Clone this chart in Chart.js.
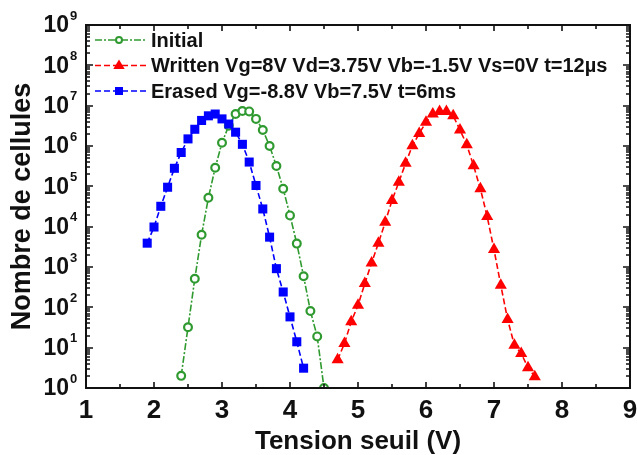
<!DOCTYPE html>
<html>
<head>
<meta charset="utf-8">
<script src="https://cdn.jsdelivr.net/npm/chart.js@4"></script>
<style>
  html, body { margin: 0; padding: 0; background: #fff; overflow: hidden; }
  #wrap { width: 637px; height: 455px; }
</style>
</head>
<body>
<div id="wrap"><canvas id="c" width="637" height="455"></canvas></div>
<script>
// ---- data ----
const seriesNames = [
  'Initial',
  'Written Vg=8V Vd=3.75V Vb=-1.5V Vs=0V t=12\u00b5s',
  'Erased Vg=-8.8V Vb=7.5V t=6ms'
];
const initialV = [2.4, 2.5, 2.6, 2.7, 2.8, 2.9, 3.0, 3.1, 3.2, 3.3, 3.4, 3.5, 3.6, 3.7, 3.8, 3.9, 4.0, 4.1, 4.2, 4.3, 4.4, 4.5];
const initialCount = [2, 32, 510, 6300, 52000, 290000, 1.2e6, 3.2e6, 6.2e6, 7.4e6, 7.2e6, 4.7e6, 2.5e6, 1.0e6, 320000, 87000, 19000, 3800, 590, 81, 19, 1];

const writtenV = [4.7, 4.8, 4.9, 5.0, 5.1, 5.2, 5.3, 5.4, 5.5, 5.6, 5.7, 5.8, 5.9, 6.0, 6.1, 6.2, 6.3, 6.4, 6.5, 6.6, 6.7, 6.8, 6.9, 7.0, 7.1, 7.2, 7.3, 7.4, 7.5, 7.6];
const writtenCount = [5, 12.6, 44, 112, 390, 1260, 3900, 12900, 44700, 126000, 372000, 1.02e6, 2.04e6, 3.9e6, 6.2e6, 7.2e6, 7.2e6, 5.6e6, 2.5e6, 1.07e6, 324000, 87000, 17800, 2700, 355, 50, 11.5, 7.2, 3.2, 1.9];

const erasedV = [1.9, 2.0, 2.1, 2.2, 2.3, 2.4, 2.5, 2.6, 2.7, 2.8, 2.9, 3.0, 3.1, 3.2, 3.3, 3.4, 3.5, 3.6, 3.7, 3.8, 3.9, 4.0, 4.1, 4.2];
const erasedCount = [3900, 9800, 32000, 95000, 280000, 690000, 1.5e6, 2.6e6, 4.3e6, 5.6e6, 6.2e6, 4.7e6, 3.5e6, 2.2e6, 1.1e6, 400000, 105000, 27500, 5500, 910, 240, 58, 14, 3.1];

const xTickLabels = ['1', '2', '3', '4', '5', '6', '7', '8', '9'];
const yExponents = ['0', '1', '2', '3', '4', '5', '6', '7', '8', '9'];
const xTitle = 'Tension seuil (V)';
const yTitle = 'Nombre de cellules';

// ---- styles ----
const GREEN = '#2f9a2f', RED = '#ff0000', BLUE = '#0000ff';
const FONT = '"Liberation Sans", Arial, sans-serif';
const styles = [
  { color: GREEN, dash: [7, 2, 2, 2], marker: 'circle' },
  { color: RED, dash: [6, 3], marker: 'triangle' },
  { color: BLUE, dash: [6, 3], marker: 'rect' }
];

function pts(xs, ys) { return xs.map((v, i) => ({ x: v, y: ys[i] })); }

function drawMarker(ctx, type, color, x, y, s) {
  ctx.save();
  ctx.setLineDash([]);
  if (type === 'circle') {
    ctx.beginPath(); ctx.arc(x, y, s, 0, Math.PI * 2);
    ctx.fillStyle = '#fff'; ctx.fill();
    ctx.lineWidth = 2; ctx.strokeStyle = color; ctx.stroke();
  } else if (type === 'triangle') {
    ctx.beginPath();
    ctx.moveTo(x, y - s); ctx.lineTo(x + s * 0.95, y + s * 0.6); ctx.lineTo(x - s * 0.95, y + s * 0.6);
    ctx.closePath(); ctx.fillStyle = color; ctx.fill();
  } else {
    ctx.fillStyle = color; ctx.fillRect(x - s, y - s, 2 * s, 2 * s);
  }
  ctx.restore();
}

const framePlugin = {
  id: 'frame',
  afterDraw(chart) {
    const { ctx, chartArea: a, scales } = chart;
    const xs = scales.x, ys = scales.y;
    ctx.save();
    ctx.strokeStyle = '#111';
    ctx.lineWidth = 1.6;
    ctx.beginPath();
    // x ticks (major + minor), bottom and top, inward
    for (let v = 1; v <= 9.001; v += 0.5) {
      const px = Math.round(xs.getPixelForValue(v));
      const len = Math.abs(v - Math.round(v)) < 1e-6 ? 6 : 4;
      ctx.moveTo(px, a.bottom); ctx.lineTo(px, a.bottom - len);
      ctx.moveTo(px, a.top); ctx.lineTo(px, a.top + len);
    }
    // y ticks
    for (let n = 0; n <= 9; n++) {
      for (let k = 1; k <= 9; k++) {
        if (n === 9 && k > 1) break;
        const val = k * Math.pow(10, n);
        const py = Math.round(ys.getPixelForValue(val));
        const len = k === 1 ? 7 : 4;
        ctx.moveTo(a.left, py); ctx.lineTo(a.left + len, py);
        ctx.moveTo(a.right, py); ctx.lineTo(a.right - len, py);
      }
    }
    ctx.stroke();
    // frame
    ctx.lineWidth = 2;
    ctx.strokeRect(a.left, a.top, a.right - a.left, a.bottom - a.top);

    // y tick labels 10^n
    ctx.fillStyle = '#111';
    yExponents.forEach((e, n) => {
      const py = ys.getPixelForValue(Math.pow(10, n));
      ctx.font = 'bold 23px ' + FONT;
      ctx.textAlign = 'right'; ctx.textBaseline = 'middle';
      ctx.fillText('10', 69, py + 1);
      ctx.font = 'bold 13px ' + FONT;
      ctx.textAlign = 'left';
      ctx.fillText(e, 70, py - 9);
    });

    // legend
    const rows = [40, 65.5, 91];
    seriesNames.forEach((name, i) => {
      const st = styles[i];
      const y = rows[i];
      ctx.save();
      ctx.strokeStyle = st.color; ctx.lineWidth = 1.6; ctx.setLineDash(st.dash);
      ctx.beginPath(); ctx.moveTo(95, y); ctx.lineTo(146, y); ctx.stroke();
      ctx.restore();
      const s = st.marker === 'circle' ? 3 : (st.marker === 'triangle' ? 6 : 4);
      drawMarker(ctx, st.marker, st.color, 119, y, s);
      ctx.fillStyle = '#111';
      ctx.font = 'bold 20px ' + FONT;
      ctx.textAlign = 'left'; ctx.textBaseline = 'middle';
      ctx.fillText(name, 151, y + 1);
    });
    ctx.restore();
  }
};

const datasets = [
  {
    label: seriesNames[0], data: pts(initialV, initialCount), order: 2,
    borderColor: GREEN, borderWidth: 1.6, borderDash: styles[0].dash,
    pointStyle: 'circle', pointRadius: 3.9, pointBorderWidth: 2.2,
    pointBackgroundColor: '#fff', pointBorderColor: GREEN
  },
  {
    label: seriesNames[1], data: pts(writtenV, writtenCount), order: 1,
    borderColor: RED, borderWidth: 1.6, borderDash: styles[1].dash,
    pointStyle: 'triangle', pointRadius: 7, pointBorderWidth: 0,
    pointBackgroundColor: RED, pointBorderColor: RED
  },
  {
    label: seriesNames[2], data: pts(erasedV, erasedCount), order: 0,
    borderColor: BLUE, borderWidth: 1.6, borderDash: styles[2].dash,
    pointStyle: 'rect', pointRadius: 6.4, pointBorderWidth: 0,
    pointBackgroundColor: BLUE, pointBorderColor: BLUE
  }
];

new Chart(document.getElementById('c'), {
  type: 'line',
  data: { datasets },
  options: {
    responsive: false,
    animation: false,
    devicePixelRatio: 1,
    layout: { padding: { top: 25, right: 6, left: 0, bottom: 0 } },
    plugins: { legend: { display: false }, tooltip: { enabled: false } },
    elements: { line: { tension: 0 } },
    scales: {
      x: {
        type: 'linear', min: 1, max: 9,
        grid: { display: false, drawTicks: false },
        border: { display: false },
        ticks: {
          stepSize: 1, padding: 7, color: '#111',
          font: { family: FONT, size: 26, weight: 'bold' },
          callback: (v) => xTickLabels[Math.round(v) - 1] ?? ''
        },
        title: {
          display: true, text: xTitle, color: '#111',
          font: { family: FONT, size: 26, weight: 'bold', lineHeight: 1 },
          padding: { top: 0, bottom: 0 }
        },
        afterFit(scale) { scale.height = 67; scale.paddingRight = 0; scale.paddingLeft = 0; }
      },
      y: {
        type: 'logarithmic', min: 1, max: 1e9,
        grid: { display: false, drawTicks: false },
        border: { display: false },
        ticks: { display: false },
        title: {
          display: true, text: yTitle, color: '#111',
          font: { family: FONT, size: 27, weight: 'bold' },
          padding: { top: 6, bottom: 0 }
        },
        afterFit(scale) { scale.width = 86; }
      }
    }
  },
  plugins: [framePlugin]
});
</script>
</body>
</html>
